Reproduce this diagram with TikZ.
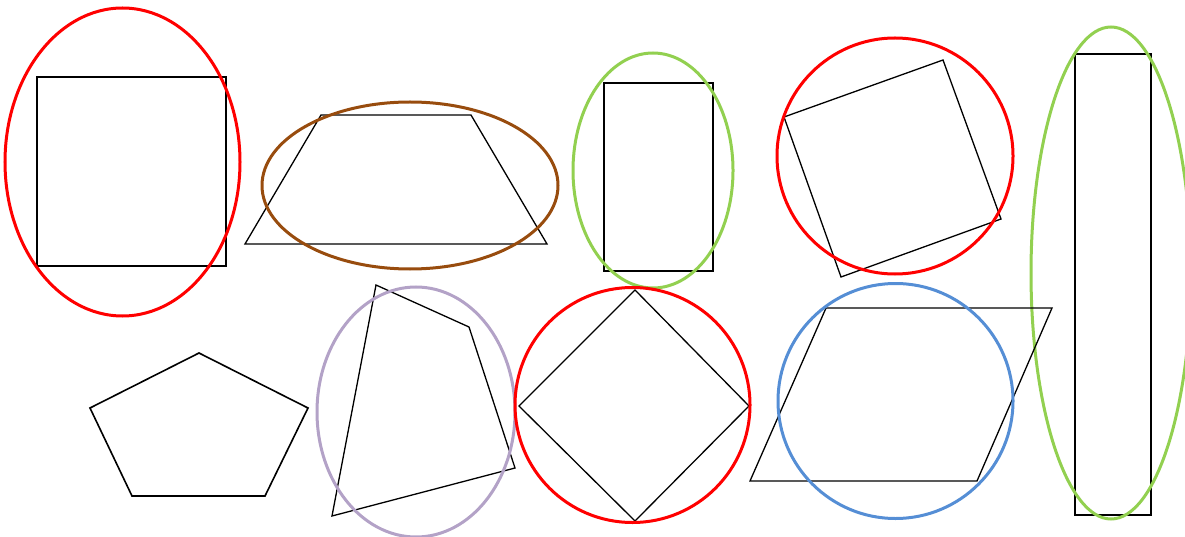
\documentclass[tikz,border=0pt]{standalone}
\definecolor{cred}{HTML}{FF0000}
\definecolor{cbrown}{HTML}{984C0E}
\definecolor{cgreen}{HTML}{92D050}
\definecolor{clav}{HTML}{B3A2C7}
\definecolor{cblue}{HTML}{558ED5}
\tikzset{
  shp/.style={draw=black, line width=1.3pt, line join=miter},
  ring/.style={line width=3pt}
}
\begin{document}
\begin{tikzpicture}[x=1pt,y=-1pt]
\useasboundingbox (0,0) rectangle (1185,537);
\clip (0,0) rectangle (1185,537);
% 1 square + red ellipse
\draw[shp] (37,77) rectangle (226,266);
\draw[ring,cred] (122.5,162) ellipse [x radius=117.5, y radius=154];
% 2 trapezoid + brown ellipse
\draw[shp] (321,115) -- (471,115) -- (547,244) -- (245,244) -- cycle;
\draw[ring,cbrown] (410,185.5) ellipse [x radius=148, y radius=83.5];
% 3 rectangle + green ellipse
\draw[shp] (604,83) rectangle (713,271);
\draw[ring,cgreen] (653,170.5) ellipse [x radius=80, y radius=117.5];
% 4 rotated square + red circle
\draw[shp] (784,117) -- (943,60) -- (1001,219) -- (841,277) -- cycle;
\draw[ring,cred] (895,156) circle [radius=118];
% 5 tall rectangle + green ellipse
\draw[shp] (1075,54) rectangle (1151,515);
\draw[ring,cgreen] (1111,273) ellipse [x radius=80, y radius=246];
% 6 pentagon
\draw[shp, line width=1.6pt] (199,353) -- (308,408) -- (265,496) -- (132,496) -- (90,408) -- cycle;
% 7 quadrilateral + lavender ellipse
\draw[shp] (376,285) -- (469,327) -- (515,468) -- (332,516) -- cycle;
\draw[ring,clav] (416,412) ellipse [x radius=99, y radius=125];
% 8 diamond + red circle
\draw[shp] (635,290) -- (749,406) -- (635,521) -- (519,406) -- cycle;
\draw[ring,cred] (632.5,405) circle [radius=117.5];
% 9 parallelogram + blue circle
\draw[shp] (826,308) -- (1052,308) -- (977,481) -- (750,481) -- cycle;
\draw[ring,cblue] (895.5,401) circle [radius=117.5];
\end{tikzpicture}
\end{document}
